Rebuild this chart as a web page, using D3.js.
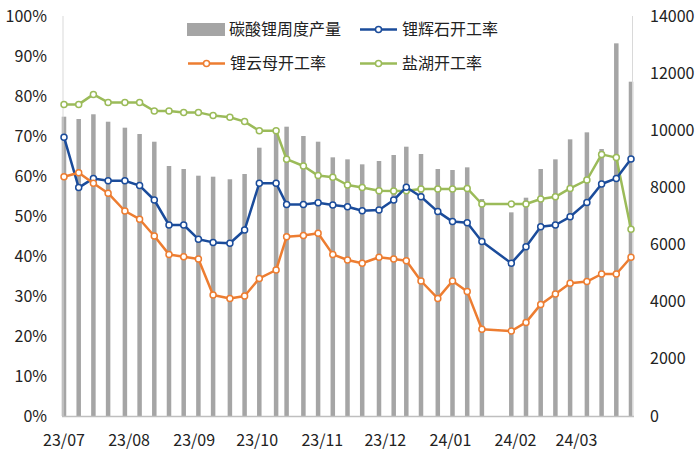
<!DOCTYPE html>
<html><head><meta charset="utf-8">
<script src="https://cdn.jsdelivr.net/npm/d3@7"></script>
<style>
html,body{margin:0;padding:0;background:#fff;}
svg text{font-family:"Noto Sans CJK SC","Noto Sans",sans-serif;}
</style></head>
<body><svg id="c" width="700" height="467"></svg>
<script>
const dates = ["2023-07-01","2023-07-08","2023-07-15","2023-07-22","2023-07-30","2023-08-06","2023-08-13","2023-08-20","2023-08-27","2023-09-03","2023-09-10","2023-09-18","2023-09-25","2023-10-02","2023-10-10","2023-10-15","2023-10-23","2023-10-30","2023-11-06","2023-11-13","2023-11-20","2023-11-28","2023-12-05","2023-12-11","2023-12-18","2023-12-26","2024-01-02","2024-01-09","2024-01-16","2024-01-30","2024-02-06","2024-02-13","2024-02-20","2024-02-27","2024-03-06","2024-03-13","2024-03-20","2024-03-27"];
const output = [10476,10395,10560,10300,10091,9870,9600,8750,8645,8411,8376,8285,8470,9391,9940,10126,9800,9601,9053,8983,8808,8925,9135,9426,9170,8645,8610,8703,7595,7128,7641,8645,8983,9683,9928,9345,13043,11701];
const spodumene = [69.7,57.1,59.4,58.8,58.8,57.6,54.0,47.75,47.75,44.2,43.4,43.2,46.5,58.2,58.2,52.9,52.9,53.3,52.75,52.3,51.3,51.5,54.0,57.2,54.8,51.1,48.6,48.3,43.6,38.2,42.3,47.3,47.75,49.8,53.4,58.0,59.4,64.25];
const lepidolite = [59.8,60.8,58.2,55.7,51.25,49.2,45.0,40.4,39.8,39.25,30.25,29.4,30.0,34.4,36.5,44.8,45.1,45.7,40.4,39.0,38.2,39.7,39.25,38.8,33.75,29.4,33.75,31.1,21.7,21.25,23.4,27.9,30.5,33.2,33.6,35.5,35.5,39.7];
const saltLake = [77.9,77.9,80.4,78.4,78.4,78.4,76.25,76.25,75.9,75.9,75.1,74.7,73.6,71.3,71.3,64.2,62.5,60.1,59.7,57.75,57.1,56.3,56.25,56.3,56.75,56.75,56.75,56.9,53.0,53.0,53.0,54.25,54.8,56.9,59.0,65.4,64.6,46.7];
const seriesNames = ["碳酸锂周度产量","锂辉石开工率","锂云母开工率","盐湖开工率"];
const leftTicks = [0,10,20,30,40,50,60,70,80,90,100];
const rightTicks = [0,2000,4000,6000,8000,10000,12000,14000];

const colors = {bar:"#A5A5A5", blue:"#1B4C9B", orange:"#ED7D31", green:"#9BBB59"};
const parse = d3.timeParse("%Y-%m-%d");
const D = dates.map(parse);
const svg = d3.select("#c");
const x = d3.scaleTime().domain([D[0], D[D.length-1]]).range([64, 631]);
const yL = d3.scaleLinear().domain([0,100]).range([416,16]);
const yR = d3.scaleLinear().domain([0,14000]).range([416,16]);

// bars
svg.append("g").selectAll("rect").data(output).join("rect")
  .attr("x",(d,i)=>x(D[i])-2.25).attr("width",4.5)
  .attr("y",d=>yR(d)).attr("height",d=>yR(0)-yR(d))
  .attr("fill",colors.bar);

// axis lines
svg.append("line").attr("x1",63).attr("x2",63).attr("y1",16).attr("y2",416).attr("stroke","#D9D9D9").attr("stroke-width",1);
svg.append("line").attr("x1",632.5).attr("x2",632.5).attr("y1",16).attr("y2",416).attr("stroke","#D9D9D9").attr("stroke-width",1);
svg.append("line").attr("x1",62).attr("x2",634).attr("y1",416.5).attr("y2",416.5).attr("stroke","#BFBFBF").attr("stroke-width",1.5);

// lines
function drawLine(vals,color){
  const line = d3.line().x((d,i)=>x(D[i])).y(d=>yL(d));
  svg.append("path").datum(vals).attr("d",line).attr("fill","none")
    .attr("stroke",color).attr("stroke-width",2.5).attr("stroke-linejoin","round");
  svg.append("g").selectAll("circle").data(vals).join("circle")
    .attr("cx",(d,i)=>x(D[i])).attr("cy",d=>yL(d)).attr("r",3)
    .attr("fill","#fff").attr("stroke",color).attr("stroke-width",1.5);
}
drawLine(saltLake,colors.green);
drawLine(spodumene,colors.blue);
drawLine(lepidolite,colors.orange);

// left axis labels
svg.append("g").selectAll("text").data(leftTicks).join("text")
  .attr("x",47).attr("y",d=>yL(d)).attr("dy","0.35em").attr("text-anchor","end")
  .attr("font-size",16).attr("fill","#222").text(d=>d+"%");
// right axis labels
svg.append("g").selectAll("text").data(rightTicks).join("text")
  .attr("x",650).attr("y",d=>yR(d)).attr("dy","0.35em").attr("text-anchor","start")
  .attr("font-size",16).attr("fill","#222").text(d=>d);
// x labels
const fmt = d3.timeFormat("%y/%m");
const months = d3.timeMonth.range(D[0], d3.timeDay.offset(D[D.length-1],1));
svg.append("g").selectAll("text").data(months).join("text")
  .attr("x",d=>x(d)).attr("y",440).attr("dy","0.35em").attr("text-anchor","middle")
  .attr("font-size",16).attr("fill","#222").text(d=>fmt(d));

// legend
const lg = svg.append("g");
lg.append("rect").attr("x",187).attr("y",23).attr("width",38).attr("height",13).attr("fill",colors.bar);
lg.append("text").attr("x",229).attr("y",29.5).attr("dy","0.35em").attr("font-size",16).attr("fill","#222").text(seriesNames[0]);
function legLine(x0,y0,color,label){
  lg.append("line").attr("x1",x0).attr("x2",x0+37).attr("y1",y0).attr("y2",y0).attr("stroke",color).attr("stroke-width",2.5);
  lg.append("circle").attr("cx",x0+18.5).attr("cy",y0).attr("r",3).attr("fill","#fff").attr("stroke",color).attr("stroke-width",1.5);
  lg.append("text").attr("x",x0+42).attr("y",y0).attr("dy","0.35em").attr("font-size",16).attr("fill","#222").text(label);
}
legLine(360,29.5,colors.blue,seriesNames[1]);
legLine(188,63.5,colors.orange,seriesNames[2]);
legLine(360,63.5,colors.green,seriesNames[3]);
</script></body></html>
